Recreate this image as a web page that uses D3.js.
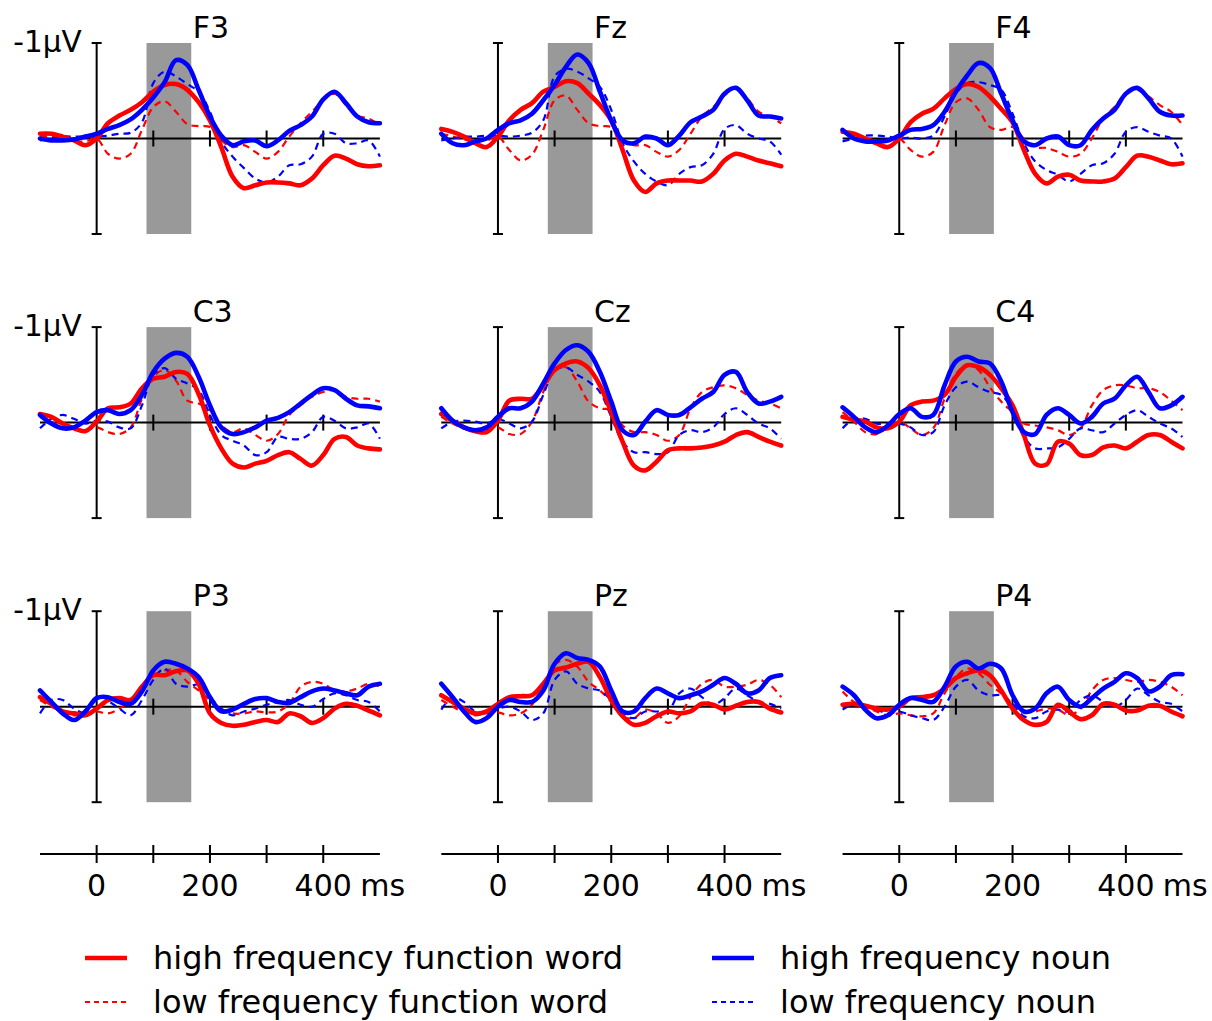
<!DOCTYPE html>
<html>
<head>
<meta charset="utf-8">
<script src="https://cdn.jsdelivr.net/npm/d3@7"></script>
<style>
  html, body { margin: 0; padding: 0; background: #fff; }
  svg { display: block; }
  text { font-family: "DejaVu Sans", Verdana, sans-serif; fill: #000; }
</style>
</head>
<body>
<svg id="chart" width="1212" height="1021"></svg>
<script>
// ---------------- data ----------------
const electrodes = ["F3", "Fz", "F4", "C3", "Cz", "C4", "P3", "Pz", "P4"];
const times = [-100, -80, -60, -40, -20, 0, 20, 40, 60, 80, 100, 120, 140, 160, 180, 200,
               220, 240, 260, 280, 300, 320, 340, 360, 380, 400, 420, 440, 460, 480, 500];
const xTicks = [100, 200, 300, 400];
const axisTicks = [0, 100, 200, 300, 400];
const axisLabels = [0, 200, 400];
const timeUnit = "ms";
const ampLabel = "-1µV";
const windowMs = [88, 167];
const conditions = ["high frequency function word", "low frequency function word",
                    "high frequency noun", "low frequency noun"];

// amplitudes in µV (negative plotted upward), one row per electrode
const hfFunctionWord = [
  [-0.05,-0.05,-0.02,0.02,0.07,0.00,-0.16,-0.24,-0.30,-0.38,-0.49,-0.56,-0.57,-0.51,-0.38,-0.19,0.09,0.40,0.52,0.49,0.46,0.46,0.47,0.49,0.42,0.28,0.18,0.21,0.27,0.29,0.28],
  [-0.10,-0.07,-0.02,0.05,0.09,-0.02,-0.19,-0.30,-0.37,-0.49,-0.54,-0.60,-0.58,-0.47,-0.35,-0.19,0.12,0.44,0.56,0.47,0.44,0.44,0.44,0.45,0.37,0.23,0.16,0.19,0.23,0.26,0.29],
  [-0.07,-0.05,0.00,0.05,0.09,0.00,-0.17,-0.26,-0.31,-0.42,-0.52,-0.57,-0.54,-0.44,-0.31,-0.17,0.12,0.37,0.47,0.40,0.38,0.44,0.45,0.45,0.42,0.30,0.18,0.19,0.23,0.27,0.26],
  [-0.09,-0.06,0.01,0.06,0.09,-0.01,-0.15,-0.16,-0.20,-0.36,-0.46,-0.48,-0.53,-0.51,-0.30,0.03,0.27,0.43,0.47,0.43,0.40,0.34,0.31,0.38,0.45,0.34,0.17,0.15,0.24,0.27,0.28],
  [-0.09,-0.02,0.05,0.09,0.10,-0.02,-0.23,-0.25,-0.25,-0.39,-0.55,-0.62,-0.64,-0.57,-0.39,-0.11,0.20,0.45,0.50,0.41,0.29,0.27,0.27,0.26,0.24,0.20,0.13,0.10,0.15,0.20,0.24],
  [-0.06,-0.03,-0.01,0.05,0.06,-0.01,-0.18,-0.22,-0.23,-0.29,-0.48,-0.60,-0.58,-0.50,-0.36,-0.18,0.13,0.43,0.44,0.20,0.22,0.34,0.34,0.26,0.24,0.27,0.20,0.13,0.13,0.20,0.27],
  [-0.10,-0.03,0.05,0.07,0.09,0.02,-0.07,-0.09,-0.07,-0.21,-0.33,-0.33,-0.37,-0.38,-0.24,0.07,0.17,0.20,0.19,0.16,0.14,0.16,0.07,0.10,0.17,0.12,0.02,-0.03,-0.01,0.04,0.09],
  [-0.12,-0.05,0.02,0.07,0.05,-0.03,-0.10,-0.11,-0.12,-0.24,-0.38,-0.41,-0.45,-0.47,-0.31,-0.07,0.10,0.19,0.17,0.10,0.05,0.07,0.05,-0.03,-0.02,0.03,-0.01,-0.05,-0.05,0.02,0.06],
  [-0.02,-0.03,-0.01,0.02,0.03,0.00,-0.09,-0.10,-0.12,-0.19,-0.30,-0.35,-0.38,-0.33,-0.17,0.02,0.14,0.19,0.16,-0.02,0.05,0.13,0.09,-0.03,-0.02,0.04,0.04,-0.01,-0.01,0.05,0.10]
];
const lfFunctionWord = [
  [-0.03,-0.02,0.00,0.03,0.03,0.00,0.16,0.21,0.16,-0.09,-0.33,-0.39,-0.28,-0.15,-0.13,-0.12,0.02,0.09,0.07,0.14,0.21,0.14,-0.02,-0.16,-0.28,-0.40,-0.47,-0.35,-0.24,-0.21,-0.14],
  [-0.05,-0.02,0.01,0.03,0.02,-0.02,0.12,0.23,0.17,-0.09,-0.40,-0.45,-0.30,-0.16,-0.13,-0.12,0.02,0.07,0.07,0.14,0.19,0.12,-0.05,-0.23,-0.33,-0.45,-0.53,-0.42,-0.28,-0.23,-0.16],
  [-0.09,-0.01,0.02,0.03,0.02,0.00,0.12,0.19,0.14,-0.14,-0.38,-0.42,-0.30,-0.12,-0.09,-0.12,0.00,0.09,0.10,0.14,0.19,0.16,0.00,-0.21,-0.33,-0.47,-0.51,-0.44,-0.35,-0.28,-0.14],
  [-0.06,-0.01,0.05,0.06,0.08,0.05,0.10,0.12,0.05,-0.25,-0.48,-0.55,-0.44,-0.23,-0.20,-0.13,0.03,0.10,0.06,0.13,0.19,0.12,-0.08,-0.18,-0.27,-0.32,-0.34,-0.27,-0.25,-0.25,-0.22],
  [-0.06,0.01,0.06,0.08,0.05,0.05,0.12,0.12,-0.01,-0.32,-0.55,-0.58,-0.43,-0.22,-0.15,-0.13,0.03,0.10,0.10,0.13,0.19,0.13,-0.15,-0.32,-0.37,-0.39,-0.36,-0.29,-0.23,-0.20,-0.15],
  [-0.11,-0.01,0.10,0.12,0.05,-0.01,0.06,0.13,0.06,-0.25,-0.51,-0.60,-0.55,-0.37,-0.22,-0.11,0.01,0.03,0.05,0.08,0.13,0.06,-0.18,-0.34,-0.39,-0.39,-0.36,-0.36,-0.32,-0.23,-0.13],
  [-0.07,0.00,0.05,0.09,0.07,0.05,0.07,0.02,-0.07,-0.21,-0.33,-0.38,-0.38,-0.26,-0.17,-0.07,0.02,0.07,0.07,0.05,0.06,0.05,-0.03,-0.21,-0.26,-0.24,-0.17,-0.16,-0.19,-0.24,-0.21],
  [-0.07,0.00,0.06,0.09,0.07,0.06,0.09,0.07,-0.02,-0.23,-0.44,-0.49,-0.42,-0.26,-0.17,-0.05,0.10,0.12,0.03,0.07,0.17,0.10,-0.10,-0.24,-0.28,-0.21,-0.21,-0.23,-0.28,-0.23,-0.10],
  [-0.16,-0.05,0.00,0.05,0.09,0.07,0.09,0.10,0.07,-0.14,-0.31,-0.40,-0.35,-0.23,-0.14,-0.03,0.05,0.05,0.02,0.03,0.09,0.02,-0.17,-0.28,-0.30,-0.28,-0.26,-0.28,-0.26,-0.21,-0.12]
];
const hfNoun = [
  [0.00,0.02,0.02,0.01,-0.02,-0.05,-0.10,-0.14,-0.20,-0.30,-0.43,-0.59,-0.82,-0.77,-0.51,-0.23,-0.03,0.07,0.03,0.02,0.08,0.02,-0.08,-0.14,-0.23,-0.41,-0.49,-0.37,-0.23,-0.17,-0.16],
  [-0.05,0.05,0.07,0.03,0.00,-0.09,-0.16,-0.19,-0.26,-0.40,-0.56,-0.75,-0.88,-0.79,-0.49,-0.19,0.02,0.05,-0.02,0.00,0.07,-0.03,-0.17,-0.23,-0.30,-0.47,-0.53,-0.40,-0.24,-0.23,-0.21],
  [-0.09,0.00,0.03,0.03,0.02,-0.03,-0.09,-0.10,-0.14,-0.28,-0.49,-0.66,-0.79,-0.74,-0.47,-0.19,0.03,0.07,0.00,-0.02,0.07,0.07,-0.09,-0.21,-0.30,-0.47,-0.53,-0.42,-0.28,-0.24,-0.24],
  [-0.08,0.01,0.06,0.05,-0.02,-0.11,-0.13,-0.09,-0.13,-0.29,-0.53,-0.67,-0.73,-0.69,-0.48,-0.18,0.05,0.12,0.10,0.05,-0.02,-0.05,-0.11,-0.20,-0.29,-0.36,-0.34,-0.25,-0.18,-0.17,-0.15],
  [-0.15,-0.02,0.05,0.08,0.05,-0.06,-0.15,-0.15,-0.22,-0.41,-0.62,-0.76,-0.81,-0.74,-0.53,-0.22,0.08,0.13,-0.01,-0.13,-0.08,-0.08,-0.16,-0.25,-0.32,-0.50,-0.53,-0.32,-0.20,-0.22,-0.27],
  [-0.16,-0.06,0.05,0.10,0.03,-0.09,-0.15,-0.06,-0.08,-0.39,-0.64,-0.69,-0.64,-0.62,-0.43,-0.11,0.10,0.12,-0.08,-0.15,-0.08,0.01,-0.06,-0.20,-0.25,-0.39,-0.48,-0.32,-0.15,-0.18,-0.27],
  [-0.17,-0.05,0.07,0.14,0.05,-0.09,-0.10,-0.05,-0.03,-0.16,-0.38,-0.47,-0.45,-0.40,-0.31,-0.10,0.05,0.03,-0.03,-0.08,-0.09,-0.05,-0.04,-0.10,-0.16,-0.19,-0.17,-0.14,-0.12,-0.21,-0.24],
  [-0.24,-0.10,0.05,0.16,0.12,0.00,-0.07,-0.05,-0.05,-0.17,-0.45,-0.56,-0.51,-0.49,-0.42,-0.17,0.05,0.05,-0.09,-0.19,-0.14,-0.09,-0.12,-0.16,-0.23,-0.30,-0.24,-0.14,-0.17,-0.30,-0.33],
  [-0.21,-0.12,0.03,0.12,0.09,-0.02,-0.09,-0.07,-0.05,-0.21,-0.42,-0.47,-0.40,-0.45,-0.40,-0.12,0.05,0.02,-0.14,-0.21,-0.07,0.00,-0.09,-0.19,-0.26,-0.35,-0.30,-0.16,-0.21,-0.33,-0.34]
];
const lfNoun = [
  [0.02,0.00,-0.02,-0.02,-0.02,-0.02,-0.03,-0.05,-0.06,-0.17,-0.58,-0.70,-0.65,-0.57,-0.49,-0.28,0.03,0.19,0.31,0.42,0.46,0.40,0.28,0.27,0.19,-0.05,-0.05,0.05,0.05,0.02,0.19],
  [0.02,0.00,-0.02,-0.02,-0.03,-0.03,-0.02,-0.03,-0.06,-0.19,-0.65,-0.73,-0.70,-0.63,-0.54,-0.30,0.05,0.24,0.37,0.45,0.49,0.37,0.30,0.28,0.16,-0.10,-0.14,-0.05,0.00,0.03,0.17],
  [0.03,0.00,-0.03,-0.03,-0.02,0.00,-0.01,0.00,-0.03,-0.23,-0.47,-0.58,-0.59,-0.56,-0.51,-0.26,0.05,0.24,0.33,0.38,0.45,0.37,0.28,0.26,0.16,-0.07,-0.12,-0.07,-0.03,0.00,0.19],
  [0.06,-0.04,-0.08,-0.04,0.01,-0.02,-0.01,0.05,0.06,-0.18,-0.50,-0.57,-0.46,-0.41,-0.34,-0.08,0.13,0.19,0.24,0.34,0.31,0.15,0.17,0.17,0.10,-0.06,-0.02,0.06,0.05,0.01,0.17],
  [0.06,-0.01,-0.02,-0.01,0.01,-0.04,0.01,0.06,-0.01,-0.29,-0.55,-0.58,-0.50,-0.43,-0.32,-0.06,0.20,0.31,0.31,0.33,0.31,0.13,0.08,0.10,0.05,-0.09,-0.15,-0.08,0.01,0.06,0.17],
  [0.06,-0.04,-0.04,0.01,0.01,0.01,0.05,0.13,0.10,-0.18,-0.37,-0.43,-0.37,-0.32,-0.29,-0.13,0.15,0.27,0.27,0.26,0.17,0.06,0.08,0.10,0.01,-0.08,-0.13,-0.06,0.01,0.06,0.15],
  [0.07,-0.07,-0.07,0.02,0.07,0.02,-0.05,0.02,0.09,-0.07,-0.28,-0.40,-0.24,-0.21,-0.23,-0.10,0.02,0.09,0.05,0.02,-0.02,-0.05,-0.07,-0.02,0.00,-0.08,-0.14,-0.12,-0.07,-0.05,0.05],
  [0.03,-0.10,-0.05,0.05,0.07,0.02,0.00,0.05,0.14,0.07,-0.28,-0.37,-0.24,-0.19,-0.17,-0.07,0.07,0.12,0.05,0.05,0.05,-0.14,-0.19,-0.10,-0.02,-0.09,-0.19,-0.12,-0.05,-0.03,0.02],
  [0.03,-0.03,-0.02,0.03,0.07,0.05,0.09,0.12,0.14,0.00,-0.21,-0.28,-0.17,-0.12,-0.12,-0.03,0.10,0.12,0.05,0.03,0.05,-0.07,-0.12,-0.05,0.00,-0.07,-0.19,-0.12,-0.05,-0.03,0.05]
];

// ---------------- layout ----------------
const svg = d3.select("#chart");
const colLeft = [40.0, 441.3, 842.6];   // pixel at -100 ms
const colWidth = 339.9;                 // -100 .. 500 ms
const rowZero = [138.5, 422.6, 706.7];  // pixel at 0 µV
const uvPx = 95.5;                      // pixels per µV
const axisY = 854;

const series = [
  { name: conditions[1], data: lfFunctionWord, color: "#ff0000", width: 2.2, dash: "7,5" },
  { name: conditions[3], data: lfNoun,         color: "#0000ff", width: 2.2, dash: "7,5" },
  { name: conditions[0], data: hfFunctionWord, color: "#ff0000", width: 4.6, dash: null },
  { name: conditions[2], data: hfNoun,         color: "#0000ff", width: 4.6, dash: null }
];

electrodes.forEach((el, i) => {
  const col = i % 3, row = Math.floor(i / 3);
  const x = d3.scaleLinear().domain([-100, 500]).range([colLeft[col], colLeft[col] + colWidth]);
  const y = d3.scaleLinear().domain([-1, 1]).range([rowZero[row] - uvPx, rowZero[row] + uvPx]);
  const g = svg.append("g");

  // grey analysis window
  g.append("rect")
    .attr("x", x(windowMs[0])).attr("y", y(-1))
    .attr("width", x(windowMs[1]) - x(windowMs[0]))
    .attr("height", y(1) - y(-1))
    .attr("fill", "#999999");

  // zero line with ticks
  g.append("line")
    .attr("x1", x(-100)).attr("x2", x(500))
    .attr("y1", y(0)).attr("y2", y(0))
    .attr("stroke", "#000").attr("stroke-width", 2);
  g.selectAll(".zt").data(xTicks).enter().append("line")
    .attr("x1", d => x(d)).attr("x2", d => x(d))
    .attr("y1", y(0) - 8).attr("y2", y(0) + 8)
    .attr("stroke", "#000").attr("stroke-width", 2);

  // amplitude axis at t = 0
  g.append("line")
    .attr("x1", x(0)).attr("x2", x(0))
    .attr("y1", y(-1)).attr("y2", y(1))
    .attr("stroke", "#000").attr("stroke-width", 2);
  [-1, 1].forEach(v => {
    g.append("line")
      .attr("x1", x(0) - 5).attr("x2", x(0) + 5)
      .attr("y1", y(v)).attr("y2", y(v))
      .attr("stroke", "#000").attr("stroke-width", 2);
  });

  // curves
  series.forEach(s => {
    const line = d3.line()
      .x((d, k) => x(times[k]))
      .y(d => y(d))
      .curve(d3.curveCatmullRom.alpha(0.5));
    g.append("path")
      .attr("d", line(s.data[i]))
      .attr("fill", "none")
      .attr("stroke", s.color)
      .attr("stroke-width", s.width)
      .attr("stroke-linejoin", "round")
      .attr("stroke-linecap", s.dash ? "butt" : "round")
      .attr("stroke-dasharray", s.dash);
  });

  // electrode label
  g.append("text")
    .attr("x", x(0) + 96).attr("y", y(-1) - 5)
    .attr("font-size", 30)
    .text(el);

  // amplitude label for the left column
  if (col === 0) {
    g.append("text")
      .attr("x", x(0) - 15).attr("y", y(-1) + 9)
      .attr("text-anchor", "end")
      .attr("font-size", 29.5)
      .text(ampLabel);
  }

  // shared time axis under each column
  if (row === 2) {
    const ax = svg.append("g").attr("transform", `translate(0,${axisY})`);
    ax.append("line")
      .attr("x1", x(-100)).attr("x2", x(500))
      .attr("stroke", "#000").attr("stroke-width", 2);
    ax.selectAll(".bt").data(axisTicks).enter().append("line")
      .attr("x1", d => x(d)).attr("x2", d => x(d))
      .attr("y1", -9).attr("y2", 9)
      .attr("stroke", "#000").attr("stroke-width", 2);
    ax.selectAll(".bl").data(axisLabels).enter().append("text")
      .attr("x", d => x(d)).attr("y", 42)
      .attr("text-anchor", "middle")
      .attr("font-size", 30)
      .text(d => d);
    ax.append("text")
      .attr("x", x(400) + 37).attr("y", 42)
      .attr("font-size", 30)
      .text(timeUnit);
  }
});

// ---------------- legend ----------------
const legendItems = [
  { label: conditions[0], color: "#ff0000", width: 4.6, dash: null, x: 85, y: 958 },
  { label: conditions[1], color: "#ff0000", width: 2, dash: "5,4", x: 85, y: 1002 },
  { label: conditions[2], color: "#0000ff", width: 4.6, dash: null, x: 712, y: 958 },
  { label: conditions[3], color: "#0000ff", width: 2, dash: "5,4", x: 712, y: 1002 }
];
const lg = svg.append("g");
legendItems.forEach(it => {
  lg.append("line")
    .attr("x1", it.x).attr("x2", it.x + 42)
    .attr("y1", it.y).attr("y2", it.y)
    .attr("stroke", it.color).attr("stroke-width", it.width)
    .attr("stroke-dasharray", it.dash);
  lg.append("text")
    .attr("x", it.x + 68).attr("y", it.y + 11)
    .attr("font-size", 32)
    .text(it.label);
});
</script>
</body>
</html>
